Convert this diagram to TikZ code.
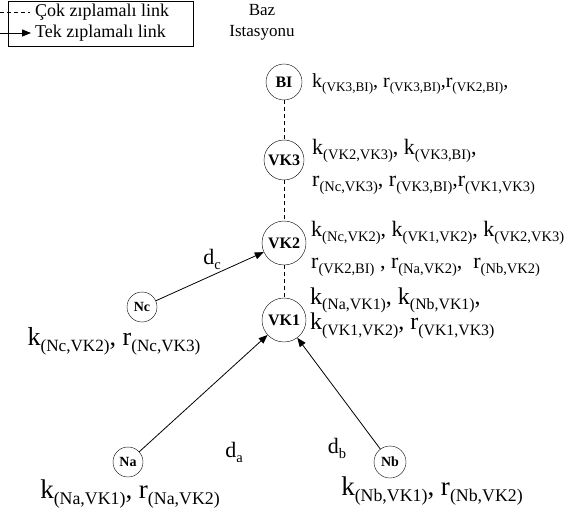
\documentclass[tikz,border=0pt]{standalone}
\usepackage{fontspec}
\setmainfont{Liberation Serif}
\usetikzlibrary{arrows.meta}
\newcommand{\subs}{\fontsize{0.66em}{1em}\selectfont}
\newcommand{\kv}[1]{k\raisebox{-0.5ex}{\subs(#1)}}
\newcommand{\rv}[1]{r\raisebox{-0.5ex}{\subs(#1)}}
\newcommand{\dv}[1]{d\raisebox{-0.5ex}{\subs #1}}
\newcommand{\boy}[1]{\fontsize{#1}{#1}\selectfont}
\tikzset{
  dugum/.style={draw, circle, inner sep=0pt, font=\fontsize{16}{17}\selectfont\bfseries},
  kucuk/.style={dugum, font=\fontsize{14}{15}\selectfont\bfseries},
  cok/.style={dashed, dash pattern=on 4pt off 3pt},
  tek/.style={-{Triangle[length=9pt,width=7pt]}, line width=0.8pt},
  etiket/.style={align=left, anchor=west, inner sep=0pt}
}
\begin{document}
\begin{tikzpicture}[x=1pt, y=-1pt]
  \useasboundingbox (0,0) rectangle (567,513);
  % Lejant
  \draw (8,1) rectangle (193,46);
  \draw[cok] (0,12) -- (30,12);
  \node[anchor=west, inner sep=0pt, font=\boy{18}] (lcok) at (35,12) {Çok zıplamalı link};
  \draw[tek] (0,33) -- (31,33);
  \node[anchor=west, inner sep=0pt, font=\boy{18}] (ltek) at (35,33) {Tek zıplamalı link};
  % Baz istasyonu
  \node[align=center, inner sep=0pt, font=\fontsize{17}{21}\selectfont] (baz) at (262,22) {Baz\\Istasyonu};
  % Dugumler
  \node[dugum, minimum size=36pt] (BI) at (284,82) {BI};
  \node[dugum, minimum size=40pt] (VK3) at (284,160) {VK3};
  \node[dugum, minimum size=44pt] (VK2) at (284,243) {VK2};
  \node[dugum, minimum size=44pt] (VK1) at (284,320) {VK1};
  \node[kucuk, minimum size=30pt] (Nc) at (142,307) {Nc};
  \node[kucuk, minimum size=30pt] (Na) at (128,462) {Na};
  \node[kucuk, minimum size=32pt] (Nb) at (390,462) {Nb};
  % Baglantilar
  \draw[cok] (BI) -- (VK3);
  \draw[cok] (VK3) -- (VK2);
  \draw[cok] (VK2) -- (VK1);
  \draw[tek] (Nc) -- (VK2);
  \draw[tek] (Na) -- (VK1);
  \draw[tek] (Nb) -- (VK1);
  \node[font=\boy{22}, inner sep=0pt] (dc) at (212,259) {\dv{c}};
  \node[font=\boy{22}, inner sep=0pt] (da) at (234,452) {\dv{a}};
  \node[font=\boy{22}, inner sep=0pt] (db) at (337,448) {\dv{b}};
  % Etiketler
  \node[etiket, font=\boy{20}] (eBI) at (312,84) {\kv{VK3,BI}, \rv{VK3,BI},\rv{VK2,BI},};
  \node[etiket, font=\boy{22}] (eVK3) at (312,167) {\kv{VK2,VK3}, \kv{VK3,BI},\\[10pt]\rv{Nc,VK3}, \rv{VK3,BI},\rv{VK1,VK3}};
  \node[etiket, font=\boy{22}] (eVK2) at (311,249) {\kv{Nc,VK2}, \kv{VK1,VK2}, \kv{VK2,VK3}\\[10pt]\rv{VK2,BI} , \rv{Na,VK2},\ \ \rv{Nb,VK2}};
  \node[etiket, font=\boy{24}] (eVK1) at (310,313) {\kv{Na,VK1}, \kv{Nb,VK1},\\[-1pt]\kv{VK1,VK2}, \rv{VK1,VK3}};
  \node[font=\boy{26}, inner sep=0pt] (eNc) at (114,341) {\kv{Nc,VK2}, \rv{Nc,VK3}};
  \node[font=\boy{27}, inner sep=0pt] (eNa) at (130,494) {\kv{Na,VK1}, \rv{Na,VK2}};
  \node[font=\boy{27}, inner sep=0pt] (eNb) at (432,491) {\kv{Nb,VK1}, \rv{Nb,VK2}};
\end{tikzpicture}
\end{document}
